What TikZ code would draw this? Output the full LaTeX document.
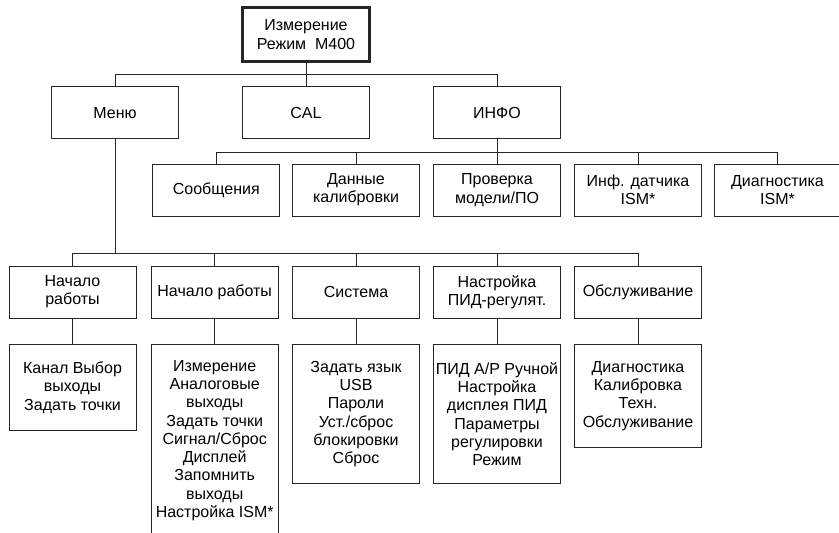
\documentclass[tikz,border=0pt]{standalone}
\usepackage{fontspec}
\setmainfont{Liberation Sans}
\tikzset{
  box/.style={draw=black!85, line width=1pt, align=center, font=\fontsize{16}{18.3}\selectfont,
              inner sep=1pt, minimum width=127pt, minimum height=#1},
  box/.default=52pt,
  link/.style={line width=1pt, draw=black!85},
}

\begin{document}
\begin{tikzpicture}[x=1pt, y=-1pt,
  root/.style={box=54pt, line width=3pt, minimum width=127pt},
  leaf/.style={box=#1, anchor=north}]
  \useasboundingbox (0,0) rectangle (839,533);
  \clip (0,0) rectangle (839,533);
  \node[root] (misura) at (306,34.5) {Измерение\\Режим\ \ M400};
  \node[box] (menu) at (115,112.7) {Меню};
  \node[box] (cal) at (306,112.5) {CAL};
  \node[box] (info) at (497,112.5) {ИНФО};
  \node[box] (msg) at (216.3,190) {Сообщения};
  \node[box] (calib) at (356,190) {Данные\\калибровки};
  \node[box] (model) at (497,190) {Проверка\\модели/ПО};
  \node[box] (sensor) at (638,190) {Инф. датчика\\ISM*};
  \node[box] (diag) at (777.5,190) {Диагностика\\ISM*};
  \node[box] (start) at (72.5,292) {Начало\\работы};
  \node[box] (setup) at (214.7,292) {Начало работы};
  \node[box] (sys) at (356,292) {Система};
  \node[box] (pid) at (497,292) {Настройка\\ПИД-регулят.};
  \node[box] (serv) at (638,292) {Обслуживание};
  \node[leaf=86pt] (startl) at (72.5,344) {Канал Выбор\\выходы\\Задать точки};
  \node[leaf=192pt] (setupl) at (214.7,344) {Измерение\\Аналоговые\\выходы\\Задать точки\\Сигнал/Сброс\\Дисплей\\Запомнить\\выходы\\Настройка ISM*};
  \node[leaf=139pt] (sysl) at (356,344) {Задать язык\\USB\\Пароли\\Уст./сброс\\блокировки\\Сброс};
  \node[leaf=139pt] (pidl) at (497,344) {ПИД А/Р Ручной\\Настройка\\дисплея ПИД\\Параметры\\регулировки\\Режим};
  \node[leaf=103pt] (servl) at (638,344) {Диагностика\\Калибровка\\Техн.\\Обслуживание};
  \draw[link] (misura.south) -- ++(0,11.6) coordinate (bus1);
  \draw[link] (menu.north) |- (bus1) -| (info.north);
  \draw[link] (bus1) -- (cal.north);
  \draw[link] (info.south) -- ++(0,13.4) coordinate (bus2);
  \draw[link] (msg.north) |- (bus2) -| (diag.north);
  \draw[link] (calib.north) -- (calib.north |- bus2);
  \draw[link] (sensor.north) -- (sensor.north |- bus2);
  \draw[link] (bus2) -- (model.north);
  \draw[link] (menu.south) -- ++(0,114.3) coordinate (bus3);
  \draw[link] (start.north) |- (bus3) -| (serv.north);
  \draw[link] (setup.north) -- (setup.north |- bus3);
  \draw[link] (sys.north) -- (sys.north |- bus3);
  \draw[link] (pid.north) -- (pid.north |- bus3);
  \draw[link] (start.south) -- (startl.north);
  \draw[link] (setup.south) -- (setupl.north);
  \draw[link] (sys.south) -- (sysl.north);
  \draw[link] (pid.south) -- (pidl.north);
  \draw[link] (serv.south) -- (servl.north);
\end{tikzpicture}
\end{document}
